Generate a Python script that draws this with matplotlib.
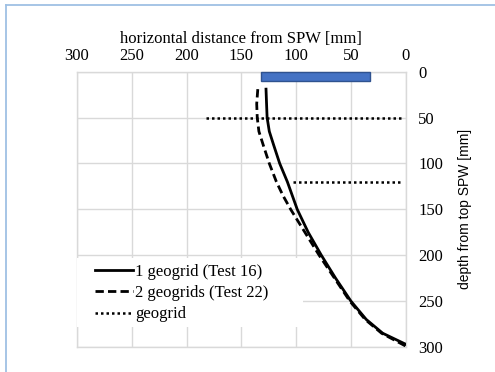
import matplotlib
matplotlib.use("Agg")
import matplotlib.pyplot as plt
from matplotlib.patches import Rectangle
from matplotlib.lines import Line2D

depth_test16 = [19, 35, 50, 65, 80, 100, 120, 150, 175, 200, 225, 250, 270, 285, 297]
dist_test16 = [127.5, 127, 126.5, 124.5, 120.5, 115, 108, 99, 89, 77, 64, 50, 36, 21, 0]

depth_test22 = [19, 35, 50, 65, 80, 100, 120, 135, 150, 175, 200, 225, 250, 270, 285, 299]
dist_test22 = [135, 136, 135.5, 134, 130, 124.5, 118, 112, 105, 92, 79, 65, 51, 37, 22, 0]

# geogrid layers (depth, x start, x end)
geogrid_depth = [50, 120]
geogrid_x_start = [182, 103]
geogrid_x_end = [4, 4]

# SPW plate
plate_x = [33, 132]
plate_depth = [0, 10]

xticks = [300, 250, 200, 150, 100, 50, 0]
yticks = [0, 50, 100, 150, 200, 250, 300]

serif = "Liberation Serif"
grid_col = "#d9d9d9"

fig = plt.figure(figsize=(4.95, 3.72), dpi=100)
ax = fig.add_axes([0.1556, 0.0672, 0.664, 0.740])

ax.add_patch(Rectangle((plate_x[0], plate_depth[0]), plate_x[1] - plate_x[0],
                       plate_depth[1] - plate_depth[0], facecolor="#4472C4",
                       edgecolor="#2F528F", lw=1, zorder=3, clip_on=False))

l1, = ax.plot(dist_test16, depth_test16, color="black", lw=2, zorder=4,
              label="1 geogrid (Test 16)")
l2, = ax.plot(dist_test22, depth_test22, color="black", lw=2, ls=(0, (3, 1.5)),
              zorder=4, label="2 geogrids (Test 22)")
for d, xs, xe in zip(geogrid_depth, geogrid_x_start, geogrid_x_end):
    l3, = ax.plot([xs, xe], [d, d], color="black", lw=1.8, ls=(0, (1, 1.2)),
                  zorder=4, label="geogrid")

ax.set_xlim(300, 0)
ax.set_ylim(300, 0)
ax.set_xticks(xticks)
ax.set_yticks(yticks)
ax.xaxis.tick_top()
ax.xaxis.set_label_position("top")
ax.yaxis.tick_right()
ax.yaxis.set_label_position("right")
ax.tick_params(length=0, labelsize=12)
ax.tick_params(axis="x", pad=5.5)
ax.tick_params(axis="y", pad=9)
for lab in ax.get_xticklabels() + ax.get_yticklabels():
    lab.set_fontfamily(serif)

ax.set_xlabel("horizontal distance from SPW [mm]", fontfamily=serif, fontsize=12, labelpad=4)
ax.set_ylabel("depth from top SPW [mm]", fontfamily="Liberation Sans", fontsize=10, labelpad=11)

ax.grid(True, color=grid_col, lw=1)
ax.set_axisbelow(True)
for s in ax.spines.values():
    s.set_color(grid_col)
    s.set_linewidth(1)

# white area behind the legend hides the grid there
ax.add_patch(Rectangle((0, 0.073), 0.688, 0.251, transform=ax.transAxes,
                       facecolor="white", edgecolor="none", zorder=2.6, clip_on=False))

leg = ax.legend(handles=[l1, l2, l3], loc="center left", bbox_to_anchor=(0.055, 0.196),
                prop={"family": serif, "size": 12}, frameon=False,
                handlelength=2.3, handletextpad=0.12, labelspacing=0.32,
                borderpad=0.0, borderaxespad=0.0)

# light blue border of the original figure
fig.add_artist(Line2D([6 / 495, 1], [1 - 5 / 372, 1 - 5 / 372], color="#9fc0e4", lw=1.3))
fig.add_artist(Line2D([6 / 495, 6 / 495], [0, 1 - 5 / 372], color="#9fc0e4", lw=1.3))

fig.savefig("out.png", dpi=100)
